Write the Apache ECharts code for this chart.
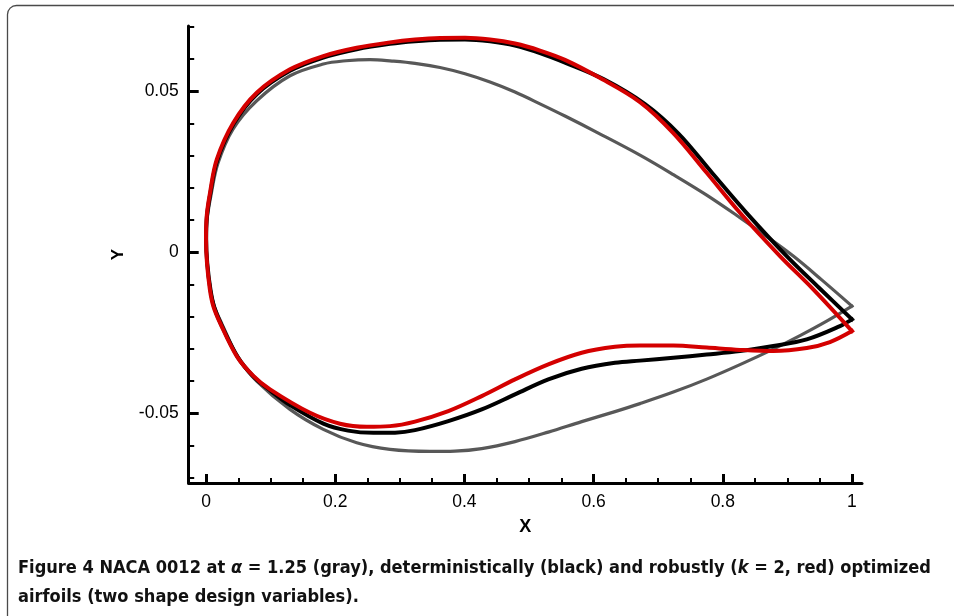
<!DOCTYPE html>
<html><head><meta charset="utf-8">
<script src="https://cdn.jsdelivr.net/npm/echarts@6/dist/echarts.min.js"></script>
<style>html,body{margin:0;padding:0;background:#fff}#c{width:954px;height:616px}</style>
</head><body><div id="c"></div>
<script>
// Tick values
const xMajorTicks = [0, 0.2, 0.4, 0.6, 0.8, 1];
const xMinorTicks = [0.05, 0.1, 0.15, 0.25, 0.3, 0.35, 0.45, 0.5, 0.55, 0.65, 0.7, 0.75, 0.85, 0.9, 0.95];
const yMajorTicks = [-0.05, 0, 0.05];
const yMinorTicks = [-0.07, -0.06, -0.04, -0.03, -0.02, -0.01, 0.01, 0.02, 0.03, 0.04, 0.06, 0.07];

// Gray: NACA 0012 at alpha = 1.25 (TE -> upper -> LE -> lower -> TE)
const grayX = [1.0, 0.9536, 0.9091, 0.8627, 0.8266, 0.7751, 0.7234, 0.6718, 0.6073, 0.5557, 0.5170, 0.4783, 0.4396, 0.4009, 0.3622, 0.3235, 0.2879, 0.2539, 0.2167, 0.1816, 0.1300, 0.0785, 0.0418, 0.0186, 0.0077, 0.0015, 0.0003,
  0.0019, 0.0070, 0.0132, 0.0248, 0.0503, 0.0785, 0.1300, 0.1816, 0.2333, 0.2848, 0.3467, 0.3854, 0.4268, 0.4783, 0.5299, 0.5816, 0.6331, 0.6718, 0.7234, 0.7751, 0.8266, 0.8782, 0.9195, 0.9608, 1.0];
const grayY = [-0.01677, -0.00870, -0.00124, 0.00559, 0.01071, 0.01770, 0.02407, 0.03012, 0.03696, 0.04224, 0.04603, 0.04969, 0.05280, 0.05537, 0.05730, 0.05860, 0.05932, 0.05978, 0.05941, 0.05839, 0.05475, 0.04699, 0.03820, 0.02764, 0.01770, 0.00994, 0.00357,
  -0.00373, -0.01180, -0.01708, -0.02236, -0.03292, -0.04006, -0.04885, -0.05506, -0.05922, -0.06127, -0.06189, -0.06180, -0.06103, -0.05885, -0.05590, -0.05264, -0.04953, -0.04705, -0.04348, -0.03944, -0.03494, -0.03012, -0.02593, -0.02143, -0.01677];

// Black: deterministically optimized
const blackX = [1.0, 0.9489, 0.8989, 0.8367, 0.7833, 0.7314, 0.6796, 0.6153, 0.5557, 0.5170, 0.4783, 0.4396, 0.4009, 0.3622, 0.3235, 0.2848, 0.2333, 0.1816, 0.1300, 0.0785, 0.0426, 0.0170, 0.0065, 0.0014, 0.0002,
  0.0019, 0.0070, 0.0127, 0.0232, 0.0492, 0.0743, 0.1006, 0.1300, 0.1816, 0.2198, 0.2590, 0.2926, 0.3235, 0.3751, 0.4268, 0.4783, 0.5299, 0.5816, 0.6331, 0.6718, 0.7234, 0.7751, 0.8266, 0.8782, 0.9299, 0.9814, 1.0];
const blackY = [-0.02090, -0.01106, -0.00124, 0.01220, 0.02463, 0.03680, 0.04596, 0.05373, 0.05885, 0.06180, 0.06413, 0.06543, 0.06599, 0.06593, 0.06547, 0.06466, 0.06298, 0.06040, 0.05627, 0.04901, 0.03975, 0.02826, 0.01801, 0.01102, 0.00388,
  -0.00342, -0.01180, -0.01708, -0.02236, -0.03261, -0.03882, -0.04317, -0.04752, -0.05326, -0.05543, -0.05612, -0.05606, -0.05528, -0.05248, -0.04885, -0.04419, -0.03953, -0.03624, -0.03438, -0.03370, -0.03283, -0.03183, -0.03075, -0.02919, -0.02711, -0.02298, -0.02090];

// Red: robustly optimized (k = 2)
const redX = [1.0, 0.9401, 0.8885, 0.8266, 0.7751, 0.7234, 0.6718, 0.6073, 0.5557, 0.5170, 0.4783, 0.4396, 0.4009, 0.3622, 0.3235, 0.2848, 0.2333, 0.1816, 0.1300, 0.0785, 0.0423, 0.0167, 0.0062, 0.0012, 0.0,
  0.0014, 0.0059, 0.0113, 0.0217, 0.0475, 0.0728, 0.0991, 0.1610, 0.2074, 0.2488, 0.2848, 0.3235, 0.3751, 0.4268, 0.4783, 0.5299, 0.5816, 0.6331, 0.6718, 0.7234, 0.7751, 0.8266, 0.8782, 0.9299, 0.9659, 1.0];
const redY = [-0.02453, -0.01158, -0.00124, 0.01220, 0.02463, 0.03696, 0.04658, 0.05435, 0.05969, 0.06258, 0.06475, 0.06599, 0.06652, 0.06646, 0.06599, 0.06512, 0.06345, 0.06087, 0.05674, 0.04947, 0.04016, 0.02879, 0.01842, 0.01149, 0.00435,
  -0.00311, -0.01149, -0.01677, -0.02196, -0.03230, -0.03835, -0.04264, -0.04991, -0.05329, -0.05425, -0.05404, -0.05264, -0.04938, -0.04472, -0.03953, -0.03488, -0.03127, -0.02941, -0.02898, -0.02898, -0.02966, -0.03037, -0.03075, -0.02981, -0.02795, -0.02453];

const xRange = [-0.0268, 1.0155];
const yRange = [-0.0717, 0.0702];

function pts(xs, ys) { return xs.map((x, i) => [x, ys[i]]); }

const labelFont = '"Liberation Sans", Arial, sans-serif';
const capFont = '"Liberation Sans Narrow", "DejaVu Sans Condensed", "Liberation Sans", sans-serif';

// fit caption width
const line1 = 'Figure 4 NACA 0012 at α = 1.25 (gray), deterministically (black) and robustly (k = 2, red) optimized';
const cv = document.createElement('canvas').getContext('2d');
cv.font = 'bold 18px ' + capFont;
const w18 = cv.measureText(line1).width;
const capSize = Math.min(21, Math.max(14, 18 * 914 / w18));

const chart = echarts.init(document.getElementById('c'), null, { renderer: 'canvas' });
const axisLineStyle = { color: '#000', width: 3 };
const curveStyle = (color, width) => ({ color: color, width: width, cap: 'square', join: 'miter' });
chart.setOption({
  animation: false,
  backgroundColor: '#fff',
  grid: { left: 188.7, right: 954 - 862, top: 26, bottom: 616 - 483, containLabel: false },
  xAxis: [
    {
      type: 'value', min: xRange[0], max: xRange[1], position: 'bottom',
      axisLine: { show: true, onZero: false, lineStyle: axisLineStyle },
      axisTick: { show: true, inside: true, length: 9, lineStyle: { color: '#000', width: 3 }, customValues: xMajorTicks },
      axisLabel: { customValues: xMajorTicks, margin: 10, fontSize: 17.5, color: '#000', fontFamily: labelFont },
      splitLine: { show: false },
      name: 'X', nameLocation: 'middle', nameGap: 35,
      nameTextStyle: { fontSize: 18, fontWeight: 'bold', color: '#000', fontFamily: labelFont }
    },
    {
      type: 'value', min: xRange[0], max: xRange[1], position: 'bottom', offset: 0,
      axisLine: { show: false, onZero: false },
      axisTick: { show: true, inside: true, length: 5, lineStyle: { color: '#000', width: 2 }, customValues: xMinorTicks },
      axisLabel: { show: false }, splitLine: { show: false }
    }
  ],
  yAxis: [
    {
      type: 'value', min: yRange[0], max: yRange[1], position: 'left',
      axisLine: { show: true, onZero: false, lineStyle: axisLineStyle },
      axisTick: { show: true, inside: true, length: 10, lineStyle: { color: '#000', width: 3 }, customValues: yMajorTicks },
      axisLabel: { customValues: yMajorTicks, margin: 10, fontSize: 17.5, color: '#000', fontFamily: labelFont },
      splitLine: { show: false },
      name: 'Y', nameLocation: 'middle', nameGap: 62,
      nameTextStyle: { fontSize: 17, fontWeight: 'bold', color: '#000', fontFamily: labelFont }
    },
    {
      type: 'value', min: yRange[0], max: yRange[1], position: 'left', offset: 0,
      axisLine: { show: false, onZero: false },
      axisTick: { show: true, inside: true, length: 5.5, lineStyle: { color: '#000', width: 2 }, customValues: yMinorTicks },
      axisLabel: { show: false }, splitLine: { show: false }
    }
  ],
  series: [
    { name: 'gray', type: 'line', data: pts(grayX, grayY), showSymbol: false, smooth: 0.35, z: 2,
      lineStyle: curveStyle('#585858', 3.2) },
    { name: 'black', type: 'line', data: pts(blackX, blackY), showSymbol: false, smooth: 0.35, z: 3,
      lineStyle: curveStyle('#000', 4) },
    { name: 'red', type: 'line', data: pts(redX, redY), showSymbol: false, smooth: 0.35, z: 4,
      lineStyle: curveStyle('#d40000', 4) }
  ],
  graphic: [
    { type: 'rect', silent: true, shape: { x: 7.5, y: 5.5, width: 1000, height: 700, r: 9 },
      style: { fill: 'none', stroke: '#4a4a4a', lineWidth: 1.3 } },
    { type: 'text', silent: true, x: 18, y: 554,
      style: {
        text: '{b|Figure 4 NACA 0012 at }{i|α}{b| = 1.25 (gray), deterministically (black) and robustly (}{i|k}{b| = 2, red) optimized}\n{b|airfoils (two shape design variables).}',
        rich: {
          b: { fontFamily: capFont, fontWeight: 'bold', fontSize: capSize, fill: '#111', lineHeight: 29 },
          i: { fontFamily: capFont, fontWeight: 'bold', fontStyle: 'italic', fontSize: capSize, fill: '#111', lineHeight: 29 }
        }
      } }
  ]
});
</script></body></html>
